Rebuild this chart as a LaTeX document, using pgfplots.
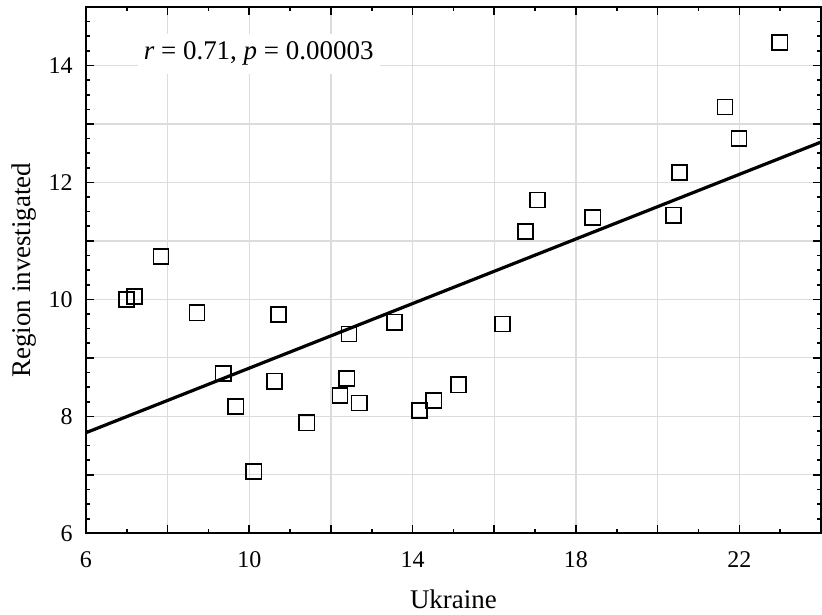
\documentclass[border=0pt]{standalone}
\usepackage{pgfplots}
\pgfplotsset{compat=1.18}
\usepackage{fontspec}
\setmainfont{Liberation Serif}
\definecolor{gridgray}{RGB}{220,220,220}
\begin{document}
\begin{tikzpicture}
\begin{axis}[
  scale only axis,
  width=368pt, height=263.5pt,
  xmin=6, xmax=24, ymin=6, ymax=15,
  xtick={6,8,...,24},
  xticklabels={6,,10,,14,,18,,22,},
  ytick={6,7,...,15},
  yticklabels={6,,8,,10,,12,,14,},
  minor x tick num=1,
  minor y tick num=3,
  tick align=inside,
  major tick length=4pt,
  minor tick length=2pt,
  tick style={black, line width=0.8pt},
  grid=major,
  major grid style={gridgray, line width=0.6pt},
  axis line style={black, line width=1pt},
  /pgf/number format/assume math mode=true,
  tick label style={font=\fontsize{12}{14}\selectfont, inner sep=0pt},
  xticklabel style={anchor=center, yshift=-13pt},
  yticklabel style={anchor=east, xshift=-6.5pt},
  xlabel={Ukraine},
  ylabel={Region investigated},
  xlabel style={at={([yshift=-33pt]axis description cs:0.5,0)}, anchor=center, font=\fontsize{13.5}{16}\selectfont},
  ylabel style={at={([xshift=-31pt]axis description cs:0,0.5)}, anchor=center, rotate=0, font=\fontsize{13.5}{16}\selectfont},
  clip=true,
]
\addplot[black, line width=1.6pt, no marks] coordinates {(6,7.72) (24,12.69)};
\addplot[only marks, mark=square, mark size=3.8pt, mark options={black, line width=0.8pt, fill=none}] coordinates {
(7.84,10.73) (6.99,10.00) (7.19,10.05) (8.72,9.77) (10.72,9.74) (13.56,9.61)
(12.44,9.41) (9.36,8.73) (10.62,8.60) (12.39,8.65) (12.22,8.36) (12.69,8.23)
(9.67,8.17) (11.41,7.89) (10.11,7.06) (14.17,8.10) (14.52,8.27) (15.12,8.54)
(16.20,9.58) (16.76,11.16) (17.06,11.70) (18.41,11.40) (20.39,11.44) (20.53,12.17)
(21.65,13.29) (21.99,12.75) (22.99,14.39)
};
\node[fill=white, inner xsep=3pt, inner ysep=4pt, font=\fontsize{13.5}{16}\selectfont] at (axis cs:10.23,14.2) {\textit{r} = 0.71, \textit{p} = 0.00003};
\end{axis}
\pgfresetboundingbox
\path ([shift={(-43pt,-40.5pt)}]current axis.south west) rectangle ([shift={(0.5pt,3.5pt)}]current axis.north east);
\end{tikzpicture}
\end{document}
